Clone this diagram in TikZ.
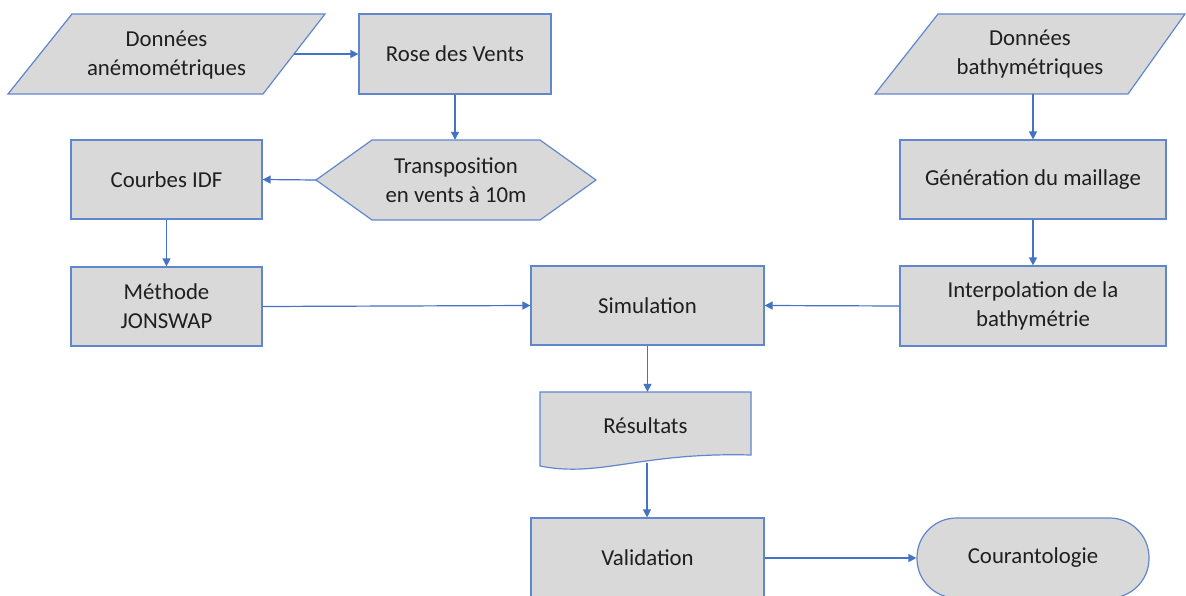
\documentclass[tikz,border=0pt]{standalone}
\usepackage{fontspec}
\setmainfont{Carlito}
\usetikzlibrary{arrows.meta}
\definecolor{edgeblue}{HTML}{4472C4}
\definecolor{boxgray}{HTML}{D9D9D9}
\begin{document}
\begin{tikzpicture}[x=1pt,y=-1pt,
  every node/.style={font=\fontsize{22.8}{29}\selectfont, text=black!88, align=center},
  box/.style={rectangle, draw=edgeblue!85, fill=boxgray, line width=1.2pt, inner sep=0pt},
  outline/.style={draw=edgeblue!85, fill=boxgray, line width=1.2pt},
  frame/.style={rectangle, draw=none, inner sep=0pt},
  arr/.style={draw=edgeblue, line width=1.2pt, -{Triangle[length=8pt,width=8pt]}}
]
\fill[white] (0,0) rectangle (1186,596);
\useasboundingbox (0,0) rectangle (1186,596);

% parallelograms (data)
\path[outline] (72,14) -- (325,14) -- (263,94) -- (8,94) -- cycle;
\node[frame, minimum width=317pt, minimum height=80pt] (anemo) at (166.5,55) {Données\\anémométriques};
\coordinate (anemoout) at (294,54);

\path[outline] (938,14) -- (1185,14) -- (1128,94) -- (875,94) -- cycle;
\node[frame, minimum width=310pt, minimum height=80pt] (bathy) at (1030,54) {Données\\bathymétriques};

% rectangles
\node[box, minimum width=192pt, minimum height=80pt] (rose) at (455,54) {Rose des Vents};
\node[box, minimum width=191pt, minimum height=79pt] (courbes) at (166.5,179.5) {Courbes IDF};
\node[box, minimum width=191pt, minimum height=79pt] (jonswap) at (166.5,306.5) {Méthode\\JONSWAP};
\node[box, minimum width=233pt, minimum height=79pt] (sim) at (647.5,305.5) {Simulation};
\node[box, minimum width=266pt, minimum height=79pt] (gen) at (1033,179.5) {Génération du maillage};
\node[box, minimum width=266pt, minimum height=80pt] (interp) at (1033,306) {Interpolation de la\\bathymétrie};
\node[box, minimum width=233pt, minimum height=80pt] (valid) at (647.5,558) {Validation};
\node[box, rounded corners=39.5pt, minimum width=232pt, minimum height=80pt] (courant) at (1033,558) {Courantologie};

% hexagon (preparation)
\path[outline] (316,180) -- (372,140) -- (540,140) -- (596,180) -- (540,220) -- (372,220) -- cycle;
\node[frame, minimum width=280pt, minimum height=80pt] (hexa) at (456,180) {Transposition\\en vents à 10m};

% document
\path[outline] (540,392) -- (751,392) -- (751,455) .. controls (640,452) and (600,478) .. (540,466) -- cycle;
\node[frame, minimum width=211pt, minimum height=68pt] (res) at (645.5,426) {Résultats};
\coordinate (resout) at (647,463);

% connectors
\draw[arr] (anemoout) -- (rose.west);
\draw[arr] (rose.south) -- (rose.south |- hexa.north);
\draw[arr] (hexa.west) -- (courbes.east);
\draw[arr] (courbes.south) -- (jonswap.north);
\draw[arr] (jonswap.east) -- (sim.west);
\draw[arr] (interp.west) -- (sim.east);
\draw[arr] (bathy.south -| gen.north) -- (gen.north);
\draw[arr] (gen.south) -- (interp.north);
\draw[arr] (sim.south) -- (sim.south |- res.north);
\draw[arr] (resout) -- (resout |- valid.north);
\draw[arr] (valid.east) -- (courant.west);
\end{tikzpicture}
\end{document}
